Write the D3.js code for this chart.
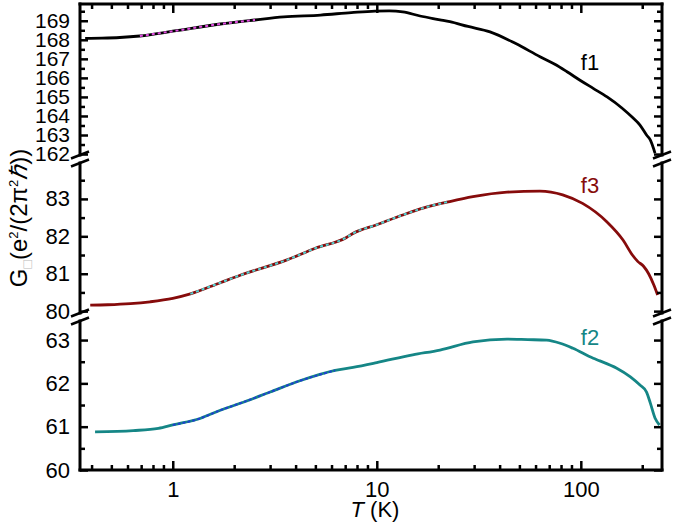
<!DOCTYPE html>
<html><head><meta charset="utf-8">
<script src="https://cdn.jsdelivr.net/npm/d3@7"></script>
<style>body{margin:0;background:#fff} svg{display:block} text{font-family:"Liberation Sans",Arial,sans-serif}</style>
</head><body><svg id="c" width="675" height="528"></svg>
<script>
// ---- data ----
const f1T = [0.372,0.45,0.55,0.69,1.0,1.71,2.53,3.5,5.3,7.5,9.8,11.5,13.4,16.3,20.4,22.8,28,35.9,48,63.1,75,85.6,100,115,134.5,159,180,195,210,219,231];
const f1G = [168.08,168.09,168.12,168.2,168.45,168.83,169.04,169.2,169.3,169.43,169.51,169.52,169.47,169.25,169.05,168.95,168.7,168.42,167.8,167.11,166.7,166.32,165.85,165.45,165.0,164.42,163.9,163.52,163.0,162.74,162.05];
const f3T = [0.394,0.48,0.62,0.775,1.0,1.22,1.71,2.14,3.63,5.0,7.1,7.6,10,13.4,17,22.8,29.6,43.5,63,81.5,102,134,161,179,190,203,215,228,238];
const f3G = [80.16,80.17,80.2,80.25,80.34,80.46,80.76,80.96,81.37,81.68,81.97,82.07,82.31,82.57,82.76,82.93,83.06,83.18,83.21,83.11,82.88,82.39,81.9,81.5,81.33,81.2,81.0,80.7,80.43];
const f2T = [0.416,0.64,0.85,1.0,1.36,1.71,2.14,3.0,4.2,6.25,7.65,10,15,20.4,29.6,43.5,55,68,80,91.5,115,124,150,175,195,210,219,231,243];
const f2G = [60.88,60.91,60.96,61.04,61.19,61.38,61.54,61.8,62.06,62.3,62.37,62.48,62.66,62.77,62.96,63.02,63.01,63.0,62.92,62.81,62.58,62.52,62.35,62.15,61.96,61.8,61.55,61.2,61.04];
const seriesNames = ["f1","f3","f2"];
const fitRanges = [[0.69,2.53],[1.22,22.8],[1.0,6.25]];
const topTicks = [162,163,164,165,166,167,168,169];
const midTicks = [80,81,82,83];
const botTicks = [60,61,62,63];
const xTicks = [1,10,100];
const xTickLabels = ["1","10","100"];
const xMinorTicks = [0.4,0.5,0.6,0.7,0.8,0.9,2,3,4,5,6,7,8,9,20,30,40,50,60,70,80,90,200];

// ---- layout ----
const svg = d3.select("#c");
const L = 80, R = 662, TOP = 4, BOT = 470;
const x = d3.scaleLog().domain([0.351, 250]).range([L, R]);
const panels = [
  {ticks: topTicks, y: d3.scaleLinear().domain([161.95, 169.88]).range([155, TOP]), T: f1T, G: f1G, color: "#000000", fit: "#e04ce0", dash: "3,3", lab: [590, 70], fs: 21},
  {ticks: midTicks, y: d3.scaleLinear().domain([79.95, 83.96]).range([313, 163]), T: f3T, G: f3G, color: "#860b0b", fit: "#4fd4d4", dash: "3,3", lab: [590, 193], fs: 22},
  {ticks: botTicks, y: d3.scaleLinear().domain([60, 63.44]).range([BOT, 321]), T: f2T, G: f2G, color: "#158686", fit: "#1f3fd0", dash: "3,2", lab: [590, 345], fs: 22}
];

const axW = 3, tkW = 2.5;
function styleAxis(g, fs){ g.select(".domain").remove(); g.selectAll("line").attr("stroke","#000").attr("stroke-width",tkW); g.selectAll("text").attr("fill","#000").style("font-size",(fs||22)+"px"); }

// data lines
panels.forEach((p, i) => {
  const pts = p.T.map((t, j) => [t, p.G[j]]);
  const line = d3.line().x(d => x(d[0])).y(d => p.y(d[1])).curve(d3.curveMonotoneX);
  svg.append("path").attr("d", line(pts)).attr("fill","none").attr("stroke",p.color).attr("stroke-width",2.8).attr("stroke-linejoin","round");
  const fr = fitRanges[i];
  const fpts = pts.filter(d => d[0] >= fr[0] && d[0] <= fr[1]);
  svg.append("path").attr("d", line(fpts)).attr("fill","none").attr("stroke",p.fit).attr("stroke-width",2).attr("stroke-dasharray",p.dash);
  svg.append("text").attr("x",p.lab[0]).attr("y",p.lab[1]).attr("text-anchor","middle").attr("fill",p.color).style("font-size","22px").text(seriesNames[i]);
});

// y axes per panel
panels.forEach(p => {
  const [d0, d1] = p.y.domain();
  const minors = d3.range(Math.ceil(d0*2)/2, d1, 0.5).filter(v => !p.ticks.includes(v));
  svg.append("g").attr("transform",`translate(${L},0)`).call(d3.axisLeft(p.y).tickValues(p.ticks).tickSizeInner(-8).tickSizeOuter(0).tickPadding(10).tickFormat(d3.format("d"))).call(g => styleAxis(g, p.fs));
  svg.append("g").attr("transform",`translate(${L},0)`).call(d3.axisLeft(p.y).tickValues(minors).tickSizeInner(-5).tickSizeOuter(0).tickFormat("")).call(styleAxis);
  svg.append("g").attr("transform",`translate(${R},0)`).call(d3.axisRight(p.y).tickValues(p.ticks).tickSizeInner(-8).tickSizeOuter(0).tickFormat("")).call(styleAxis);
  svg.append("g").attr("transform",`translate(${R},0)`).call(d3.axisRight(p.y).tickValues(minors).tickSizeInner(-5).tickSizeOuter(0).tickFormat("")).call(styleAxis);
  const [ya, yb] = p.y.range();
  [L, R].forEach(xx => svg.append("line").attr("x1",xx).attr("x2",xx).attr("y1",ya).attr("y2",yb).attr("stroke","#000").attr("stroke-width",axW).attr("stroke-linecap","square"));
});

// x axes
svg.append("g").attr("transform",`translate(0,${BOT})`).call(d3.axisBottom(x).tickValues(xTicks).tickSizeInner(-9).tickSizeOuter(0).tickPadding(11).tickFormat((d,i) => xTickLabels[i])).call(styleAxis);
svg.append("g").attr("transform",`translate(0,${BOT})`).call(d3.axisBottom(x).tickValues(xMinorTicks).tickSizeInner(-5).tickSizeOuter(0).tickFormat("")).call(styleAxis);
svg.append("g").attr("transform",`translate(0,${TOP})`).call(d3.axisTop(x).tickValues(xTicks).tickSizeInner(-9).tickSizeOuter(0).tickFormat("")).call(styleAxis);
svg.append("g").attr("transform",`translate(0,${TOP})`).call(d3.axisTop(x).tickValues(xMinorTicks).tickSizeInner(-5).tickSizeOuter(0).tickFormat("")).call(styleAxis);
[TOP, BOT].forEach(yy => svg.append("line").attr("x1",L).attr("x2",R).attr("y1",yy).attr("y2",yy).attr("stroke","#000").attr("stroke-width",axW).attr("stroke-linecap","square"));

// axis breaks
const breaks = [panels[0].y.range()[0], panels[1].y.range()[1], panels[1].y.range()[0], panels[2].y.range()[1]];
[L, R].forEach(xx => breaks.forEach(yy => {
  svg.append("line").attr("x1",xx-9).attr("y1",yy+3.5).attr("x2",xx+9).attr("y2",yy-3.5).attr("stroke","#000").attr("stroke-width",2.5);
}));

// axis titles
const xt = svg.append("text").attr("x",375).attr("y",517).attr("text-anchor","middle").style("font-size","22px").attr("fill","#000");
xt.append("tspan").style("font-style","italic").text("T");
xt.append("tspan").text(" (K)");

const yt = svg.append("text").attr("transform","translate(27,218) rotate(-90)").attr("text-anchor","middle").style("font-size","24px").attr("fill","#000");
yt.append("tspan").text("G");
yt.append("tspan").attr("dy",5).style("font-size","14px").attr("fill","#bbbbbb").text("□");
yt.append("tspan").attr("dy",-5).text("(e");
yt.append("tspan").attr("dy",-9).style("font-size","13px").text("2");
yt.append("tspan").attr("dy",9).text("/(2π");
yt.append("tspan").attr("dy",-9).style("font-size","13px").text("2");
yt.append("tspan").attr("dy",9).style("font-style","italic").text("ℏ");
yt.append("tspan").text("))");
</script>
</body></html>
